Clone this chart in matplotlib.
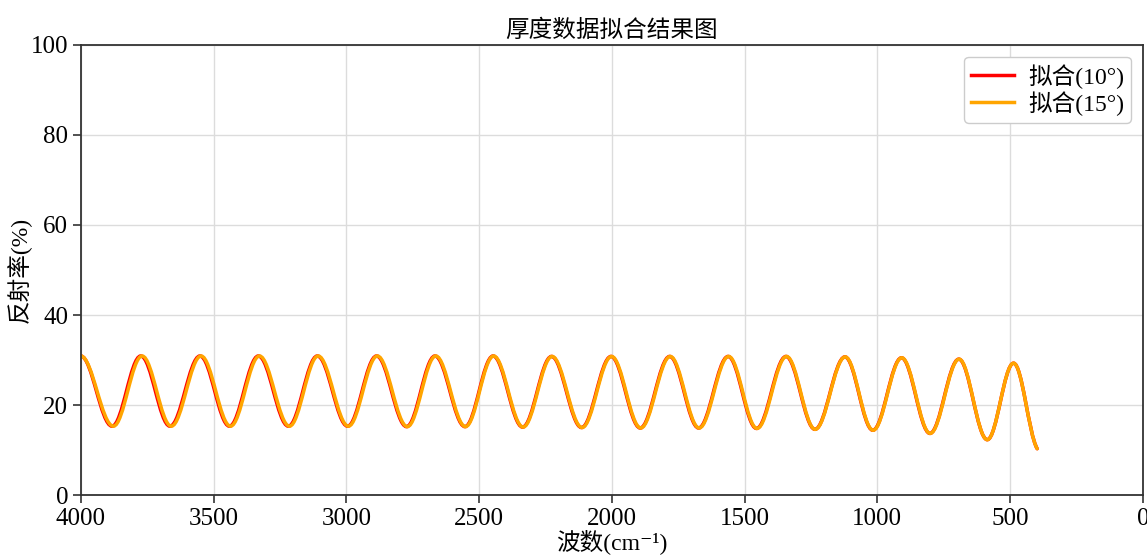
import numpy as np
import matplotlib.pyplot as plt
from matplotlib.path import Path
from matplotlib.patches import PathPatch
from matplotlib.lines import Line2D

plt.rcParams['font.family'] = ['Liberation Serif', 'Noto Sans CJK SC', 'DejaVu Sans']
plt.rcParams['axes.unicode_minus'] = False

# extrema of the fitted curves (wavenumber, reflectance %)
# last point is the end of the curve, not an extremum
red_wn = [4000, 3882, 3774, 3664, 3551, 3440, 3331, 3218, 3109, 2995, 2886, 2773,
          2666, 2553, 2447, 2336, 2227, 2114, 2003, 1893, 1782, 1673, 1562, 1455,
          1344, 1235, 1122, 1017, 909, 802, 693, 586, 487, 398]
red_r = [30.9, 15.3, 30.9, 15.3, 30.9, 15.3, 30.9, 15.3, 30.9, 15.3, 30.9, 15.2,
         30.9, 15.2, 30.9, 15.1, 30.8, 15.0, 30.8, 14.9, 30.8, 14.9, 30.8, 14.8,
         30.8, 14.6, 30.7, 14.4, 30.5, 13.7, 30.2, 12.3, 29.3, 10.3]

orange_wn = [4000, 3877, 3769, 3659, 3547, 3436, 3327, 3214, 3106, 2992, 2883, 2770,
             2663, 2551, 2445, 2334, 2225, 2112, 2001, 1891, 1780, 1671, 1560, 1453,
             1342, 1234, 1121, 1016, 908, 801, 692, 586, 487, 398]
orange_r = [30.9, 15.3, 30.9, 15.3, 30.9, 15.3, 30.9, 15.3, 30.9, 15.3, 30.9, 15.2,
            30.9, 15.2, 30.9, 15.1, 30.8, 15.0, 30.8, 14.9, 30.8, 14.9, 30.8, 14.8,
            30.8, 14.6, 30.7, 14.4, 30.5, 13.7, 30.2, 12.3, 29.3, 10.3]
end_slope = 0.098  # dR/dwn at the last point (curve still falling)

labels = ['拟合(10°)', '拟合(15°)']
colors = ['red', 'orange']
xticks = [4000, 3500, 3000, 2500, 2000, 1500, 1000, 500, 0]
yticks = [0, 20, 40, 60, 80, 100]


def wave_path(wn, r, slope):
    # smooth half waves between extrema (flat tangents at the peaks / troughs)
    k = 0.364
    verts = [(wn[0], r[0])]
    codes = [Path.MOVETO]
    for i in range(1, len(wn)):
        x0, y0, x1, y1 = wn[i - 1], r[i - 1], wn[i], r[i]
        dx = x1 - x0
        c1 = (x0 + k * dx, y0)
        if i == len(wn) - 1:
            c2 = (x1 - k * dx, y1 - k * dx * slope)
        else:
            c2 = (x1 - k * dx, y1)
        verts += [c1, c2, (x1, y1)]
        codes += [Path.CURVE4] * 3
    return Path(verts, codes)


fig = plt.figure(figsize=(11.47, 5.55), dpi=100)
ax = fig.add_axes([0.0704, 0.108, 0.926, 0.811])

for wn, r, c in [(red_wn, red_r, colors[0]), (orange_wn, orange_r, colors[1])]:
    patch = PathPatch(wave_path(wn, r, end_slope), facecolor='none', edgecolor=c,
                      lw=2.5, capstyle='round', joinstyle='round')
    ax.add_patch(patch)

ax.set_xlim(4000, 0)
ax.set_ylim(0, 100)
ax.set_xticks(xticks)
ax.set_yticks(yticks)
ax.grid(True, color='#dcdcdc', lw=1.0)
ax.set_axisbelow(True)
for s in ax.spines.values():
    s.set_color('#333333')
    s.set_linewidth(1.3)
ax.tick_params(labelsize=18, length=6, width=1.2, color='#333333', pad=3)

ax.set_title('厚度数据拟合结果图', fontsize=17)
ax.set_xlabel('波数(cm⁻¹)', fontsize=17, labelpad=0)
ax.set_ylabel('反射率(%)', fontsize=17)
ax.yaxis.set_label_coords(-0.046, 0.5)

handles = [Line2D([], [], color=c, lw=2.5) for c in colors]
ax.legend(handles, labels, loc='upper right', fontsize=17, labelspacing=0.1,
          borderpad=0.3, handlelength=1.8, handletextpad=0.6, framealpha=1.0,
          edgecolor='#cccccc')

fig.savefig('out.png', dpi=100)
